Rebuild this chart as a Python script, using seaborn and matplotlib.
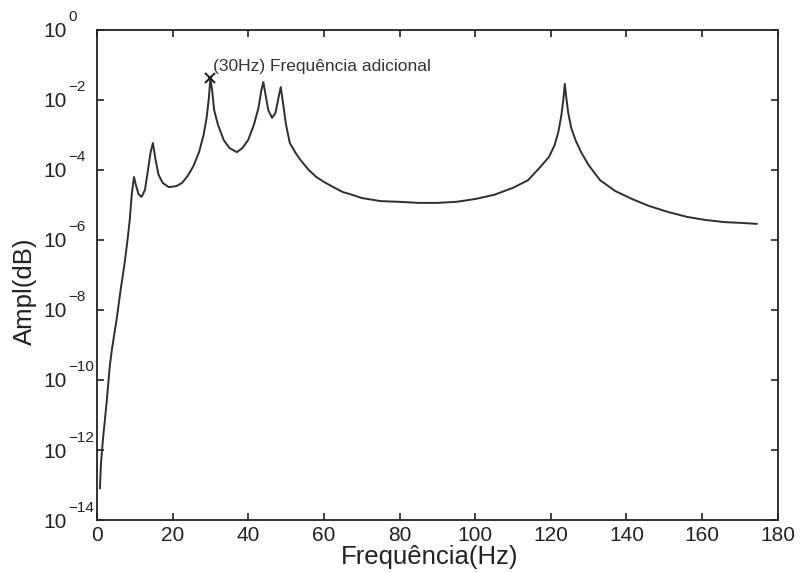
import numpy as np
import pandas as pd
import matplotlib
matplotlib.use("Agg")
import matplotlib.pyplot as plt
import matplotlib.transforms as mtransforms
import seaborn as sns

# Frequency (Hz) and log10 amplitude
freq = [0.8, 1.06, 1.59, 2.6, 3.4, 4.0, 5.3, 6.3, 7.4, 8.2, 8.7, 9.2, 9.8, 10.3, 11.0, 11.8,
        12.7, 13.5, 14.2, 14.8, 15.5, 16.3, 17.4, 19.0, 21.0, 22.5, 24.0, 25.5, 27.0, 28.2,
        29.0, 29.6, 30.0, 30.5, 31.0, 32.0, 33.5, 35.0, 37.0, 38.5, 40.0, 41.5, 42.7, 43.5,
        44.0, 44.6, 45.3, 46.3, 47.2, 48.0, 48.6, 49.2, 50.0, 51.0, 52.5, 54.0, 56.0, 58.0,
        60.0, 62.5, 65.0, 67.5, 70.0, 75.0, 80.0, 85.0, 90.0, 95.0, 100.0, 105.0, 110.0,
        114.0, 117.0, 119.5, 121.0, 122.0, 122.8, 123.3, 123.7, 124.1, 124.6, 125.4, 126.5,
        128.0, 130.0, 133.0, 137.0, 141.5, 146.0, 151.0, 156.0, 161.0, 166.0, 170.0, 174.5]
log_amp = [-13.1, -12.4, -11.7, -10.6, -9.6, -9.1, -8.2, -7.4, -6.6, -5.9, -5.4, -4.7, -4.2,
           -4.43, -4.69, -4.77, -4.57, -4.0, -3.49, -3.23, -3.71, -4.14, -4.37, -4.49, -4.46,
           -4.37, -4.17, -3.89, -3.49, -3.0, -2.51, -1.94, -1.37, -1.77, -2.29, -2.71, -3.14,
           -3.37, -3.49, -3.37, -3.14, -2.71, -2.23, -1.71, -1.49, -1.86, -2.29, -2.51, -2.37,
           -1.94, -1.63, -2.09, -2.71, -3.23, -3.51, -3.74, -4.0, -4.2, -4.34, -4.49, -4.63,
           -4.71, -4.8, -4.89, -4.91, -4.94, -4.94, -4.91, -4.83, -4.71, -4.51, -4.29, -3.94,
           -3.63, -3.29, -2.91, -2.43, -2.0, -1.54, -1.94, -2.37, -2.8, -3.14, -3.49, -3.86,
           -4.29, -4.6, -4.83, -5.03, -5.2, -5.34, -5.43, -5.49, -5.51, -5.54]

marker_freq = 30.0
marker_log = -1.37
annotation = "(30Hz) Frequência adicional"
x_ticks = [0, 20, 40, 60, 80, 100, 120, 140, 160, 180]
y_exps = [0, -2, -4, -6, -8, -10, -12, -14]

sns.set_style("ticks")
plt.rcParams["font.family"] = ["Liberation Sans", "DejaVu Sans"]

df = pd.DataFrame({"f": freq, "amp": 10.0 ** np.array(log_amp)})

fig = plt.figure(figsize=(8.01, 5.72), dpi=100)
ax = fig.add_axes([0.121, 0.0909, 0.850, 0.8567])
sns.lineplot(data=df, x="f", y="amp", ax=ax, color="#2e2e2e", linewidth=1.4)
ax.set_yscale("log")
ax.set_xlim(0, 180)
ax.set_ylim(1e-14, 1)
ax.set_xticks(x_ticks)
ax.set_xticklabels([str(t) for t in x_ticks])
ax.set_yticks([10.0 ** e for e in y_exps])
ax.set_yticklabels(["10" for e in y_exps])
ax.yaxis.set_minor_locator(matplotlib.ticker.NullLocator())
ax.tick_params(direction="in", top=True, right=True, length=5, width=1.2,
               labelsize=15, colors="#222222")
ax.tick_params(axis="y", pad=21.6)
ax.tick_params(axis="x", pad=4)
for s in ax.spines.values():
    s.set_linewidth(1.3)
    s.set_color("#222222")

# exponents of the y tick labels, MATLAB style
exp_tr = mtransforms.blended_transform_factory(ax.transAxes, ax.transData) + \
    mtransforms.ScaledTranslation(-0.29, 0.125, fig.dpi_scale_trans)
for e in y_exps:
    txt = "0" if e == 0 else "\u2212%d" % (-e)
    ax.text(0, 10.0 ** e, txt, transform=exp_tr, fontsize=11, color="#222222",
            ha="left", va="center", clip_on=False)

ax.plot([marker_freq], [10.0 ** marker_log], marker="x", color="#222222",
        markersize=7, mew=1.5, linestyle="none")
ax.text(marker_freq + 0.6, 10.0 ** (marker_log + 0.1), annotation, fontsize=12.5,
        color="#333333", ha="left", va="bottom")

ax.set_xlabel("Frequência(Hz)", fontsize=18.5, color="#222222")
ax.set_ylabel("Ampl(dB)", fontsize=18.5, color="#222222")
ax.xaxis.set_label_coords(0.489, -0.051)
ax.yaxis.set_label_coords(-0.088, 0.467)

fig.savefig("out.png", dpi=100)
